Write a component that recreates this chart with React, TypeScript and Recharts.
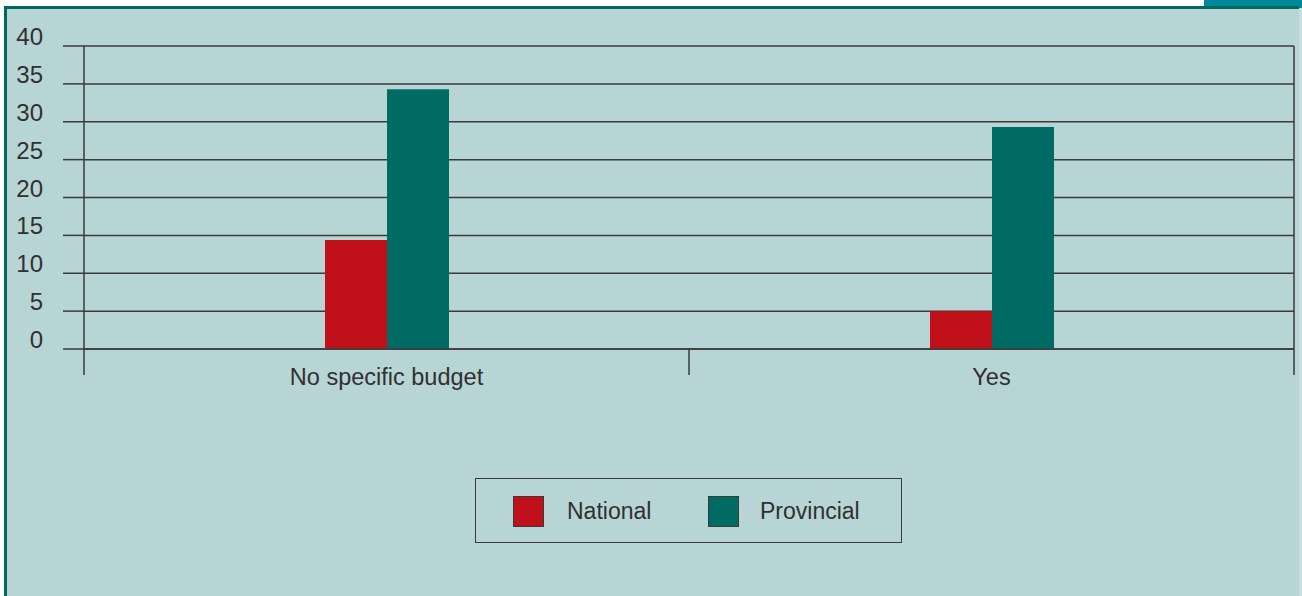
import React from 'react';
import { BarChart, Bar, XAxis, YAxis, CartesianGrid, Legend } from 'recharts';

const categories = ['No specific budget', 'Yes'];
const nationalValues = [14.4, 5.0];
const provincialValues = [34.3, 29.3];
const yTicks = [0, 5, 10, 15, 20, 25, 30, 35, 40];
const seriesNames = ['National', 'Provincial'];
const seriesColors = ['#c0111a', '#006b63'];

const data = categories.map((c, i) => ({
  category: c,
  National: nationalValues[i],
  Provincial: provincialValues[i],
}));

const W = 1302;
const H = 596;
const MARGIN = { top: 46, right: 8, left: 0, bottom: 207 };
const Y_AXIS_W = 84;
const PLOT_W = W - MARGIN.left - MARGIN.right - Y_AXIS_W;
const FONT = '"Liberation Sans", Arial, Helvetica, sans-serif';
const TEXT = '#303030';
const LINE = '#3a3a3a';

const XTick = (props: any) => {
  const { x, y, payload, index } = props;
  const half = PLOT_W / categories.length / 2;
  const last = index === categories.length - 1;
  return (
    <g>
      <line x1={x - half} x2={x - half} y1={y} y2={y + 26} stroke={LINE} strokeWidth={1.5} />
      {last && <line x1={x + half} x2={x + half} y1={y} y2={y + 26} stroke={LINE} strokeWidth={1.5} />}
      <text x={x} y={y + 36} textAnchor="middle" fontFamily={FONT} fontSize={23.5} fill={TEXT}>
        {payload.value}
      </text>
    </g>
  );
};

const YTick = (props: any) => {
  const { x, y, payload } = props;
  return (
    <text x={x} y={y - 1} textAnchor="end" fontFamily={FONT} fontSize={24} fill={TEXT}>
      {payload.value}
    </text>
  );
};

const LegendContent = () => (
  <div
    style={{
      position: 'relative',
      width: 427,
      height: 65,
      boxSizing: 'border-box',
      border: `1px solid ${LINE}`,
      fontFamily: FONT,
      fontSize: 23,
      color: TEXT,
    }}
  >
    {seriesNames.map((n, i) => (
      <React.Fragment key={n}>
        <div
          style={{
            position: 'absolute',
            left: i === 0 ? 37 : 232,
            top: 17,
            width: 31,
            height: 31,
            boxSizing: 'border-box',
            border: `1px solid ${LINE}`,
            background: seriesColors[i],
          }}
        />
        <div style={{ position: 'absolute', left: i === 0 ? 91 : 284, top: 19, lineHeight: '26px' }}>{n}</div>
      </React.Fragment>
    ))}
  </div>
);

export default function App() {
  return (
    <div style={{ position: 'absolute', left: 0, top: 0, width: W, height: H, background: '#ffffff', overflow: 'hidden' }}>
      <div style={{ position: 'absolute', left: 1204, top: 0, width: 98, height: 8, background: '#00899b' }} />
      <div
        style={{
          position: 'absolute',
          left: 4,
          top: 6,
          width: 1295,
          height: 590,
          boxSizing: 'border-box',
          background: '#b8d5d5',
          borderLeft: '3px solid #00695f',
          borderTop: '3px solid #00695f',
        }}
      />
      <div style={{ position: 'absolute', left: 1299, top: 8, width: 3, height: 588, background: '#c6dede' }} />
      <div style={{ position: 'absolute', left: 0, top: 0 }}>
        <BarChart width={W} height={H} data={data} margin={MARGIN} barGap={0} barSize={62}>
          <CartesianGrid
            stroke={LINE}
            strokeWidth={1.5}
            horizontal={true}
            vertical={true}
            verticalCoordinatesGenerator={({ offset }: any) => [offset.left + offset.width]}
          />
          <XAxis
            dataKey="category"
            tickLine={false}
            tickSize={0}
            tickMargin={0}
            axisLine={{ stroke: LINE, strokeWidth: 1.5 }}
            tick={<XTick />}
            height={40}
            interval={0}
          />
          <YAxis
            width={Y_AXIS_W}
            domain={[0, 40]}
            ticks={yTicks}
            tickSize={21}
            tickMargin={20}
            tickLine={{ stroke: LINE, strokeWidth: 1.5 }}
            axisLine={{ stroke: LINE, strokeWidth: 1.5 }}
            tick={<YTick />}
            interval={0}
          />
          <Legend
            layout="horizontal"
            verticalAlign="middle"
            align="center"
            content={<LegendContent />}
            wrapperStyle={{ left: 475, top: 478, width: 427, height: 65 }}
          />
          {seriesNames.map((n, i) => (
            <Bar key={n} dataKey={n} fill={seriesColors[i]} isAnimationActive={false} />
          ))}
        </BarChart>
      </div>
    </div>
  );
}
